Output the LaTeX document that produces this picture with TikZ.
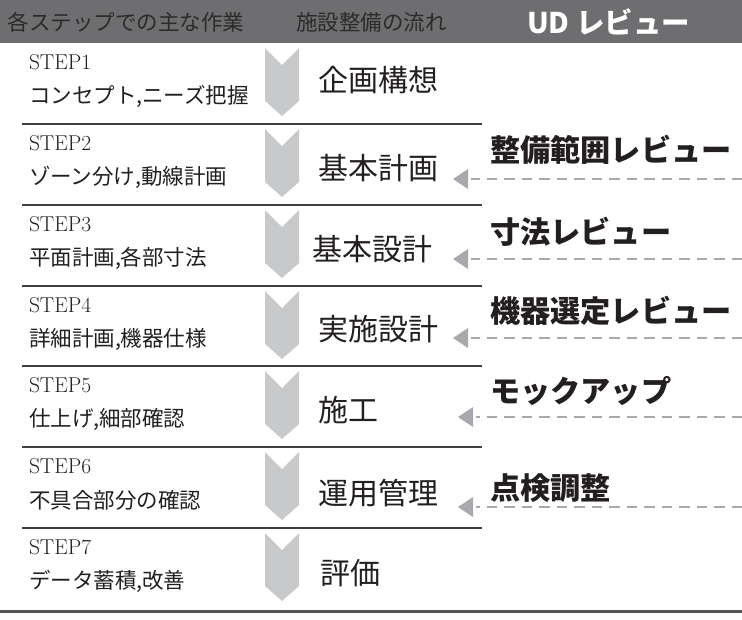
\documentclass[tikz,border=0pt]{standalone}
\usepackage{fontspec}
\newfontfamily\jp{Noto Sans CJK JP}
\definecolor{hdr}{HTML}{6E6E71}
\definecolor{hdrtxt}{HTML}{2B2B2B}
\definecolor{chev}{HTML}{C8C9CB}
\definecolor{sepc}{HTML}{3F3F3F}
\definecolor{dashc}{HTML}{A8A9AC}
\definecolor{txt}{HTML}{231F20}
\definecolor{botc}{HTML}{555555}
\begin{document}
\begin{tikzpicture}[x=1pt,y=-1pt,
  every node/.style={inner sep=0pt,outer sep=0pt},
  hdrtext/.style={anchor=west,text=hdrtxt,font=\jp\fontsize{21.5}{24}\selectfont},
  udtext/.style={anchor=west,text=white,font=\jp\bfseries\fontsize{28.5}{32}\selectfont},
  steptext/.style={anchor=west,text=txt,font=\fontsize{21.5}{24}\selectfont},
  desctext/.style={anchor=west,text=txt,font=\jp\fontsize{21.5}{24}\selectfont},
  stagetext/.style={anchor=west,text=txt,font=\jp\fontsize{30}{32}\selectfont},
  revtext/.style={anchor=west,text=txt,font=\jp\bfseries\fontsize{30.2}{32}\selectfont},
  sepline/.style={draw=sepc,line width=2pt},
  revline/.style={draw=dashc,line width=2.6pt,dash pattern=on 10.5pt off 7pt},
  revtip/.style={fill=dashc},
  chevfill/.style={fill=chev}]
\useasboundingbox (0,0) rectangle (742,619);
\fill[hdr] (0,0) rectangle (742,43);
\node[hdrtext] (h1) at (8,22) {各ステップでの主な作業};
\node[hdrtext] (h2) at (296,22) {施設整備の流れ};
\node[udtext] (h3) at (527,22) {UD レビュー};
\foreach \i/\T/\desc/\stage/\sx/\so in {
  1/43/{コンセプト,ニーズ把握}/企画構想/318/37,
  2/124/{ゾーン分け,動線計画}/基本計画/318/44,
  3/205/{平面計画,各部寸法}/基本設計/312/44,
  4/286/{詳細計画,機器仕様}/実施設計/318/43,
  5/366/{仕上げ,細部確認}/施工/318/44,
  6/447/{不具合部分の確認}/運用管理/318/46,
  7/528/{データ蓄積,改善}/評価/320/45} {
  \fill[chevfill] (265,\T+5) -- ++(17,17) -- ++(17,-17) -- ++(0,53) -- ++(-17,15) -- ++(-17,-15) -- cycle;
  \node[steptext] (step\i) at (29,\T+19) {STEP\i};
  \node[desctext] (desc\i) at (29,\T+53) {\desc};
  \node[stagetext] (stage\i) at (\sx,\T+\so) {\stage};
}
\foreach \i/\T in {1/124,2/205,3/286,4/366,5/447,6/528} {
  \coordinate (sl\i) at (22,\T);
  \coordinate (sr\i) at (482,\T);
  \draw[sepline] (sl\i) -- (sr\i);
}
\coordinate (bl) at (0,611);
\coordinate (br) at (742,611);
\draw[draw=botc,line width=3pt] (bl) -- (br);
\foreach \i/\T/\lab/\ly/\ay/\ax in {
  2/124/整備範囲レビュー/26/55/453,
  3/205/寸法レビュー/27/54/453,
  4/286/機器選定レビュー/25/52/453,
  5/366/モックアップ/25/51/458,
  6/447/点検調整/41/60/458} {
  \node[revtext] (rev\i) at (490,\T+\ly) {\lab};
  \coordinate (re\i) at (742,\T+\ay);
  \coordinate (rb\i) at (\ax+18,\T+\ay);
  \coordinate (rt\i) at (\ax,\T+\ay);
  \draw[revline] (re\i) -- (rb\i);
  \fill[revtip] (rt\i) -- ++(15,-10) -- ++(0,20) -- cycle;
}
\end{tikzpicture}
\end{document}
